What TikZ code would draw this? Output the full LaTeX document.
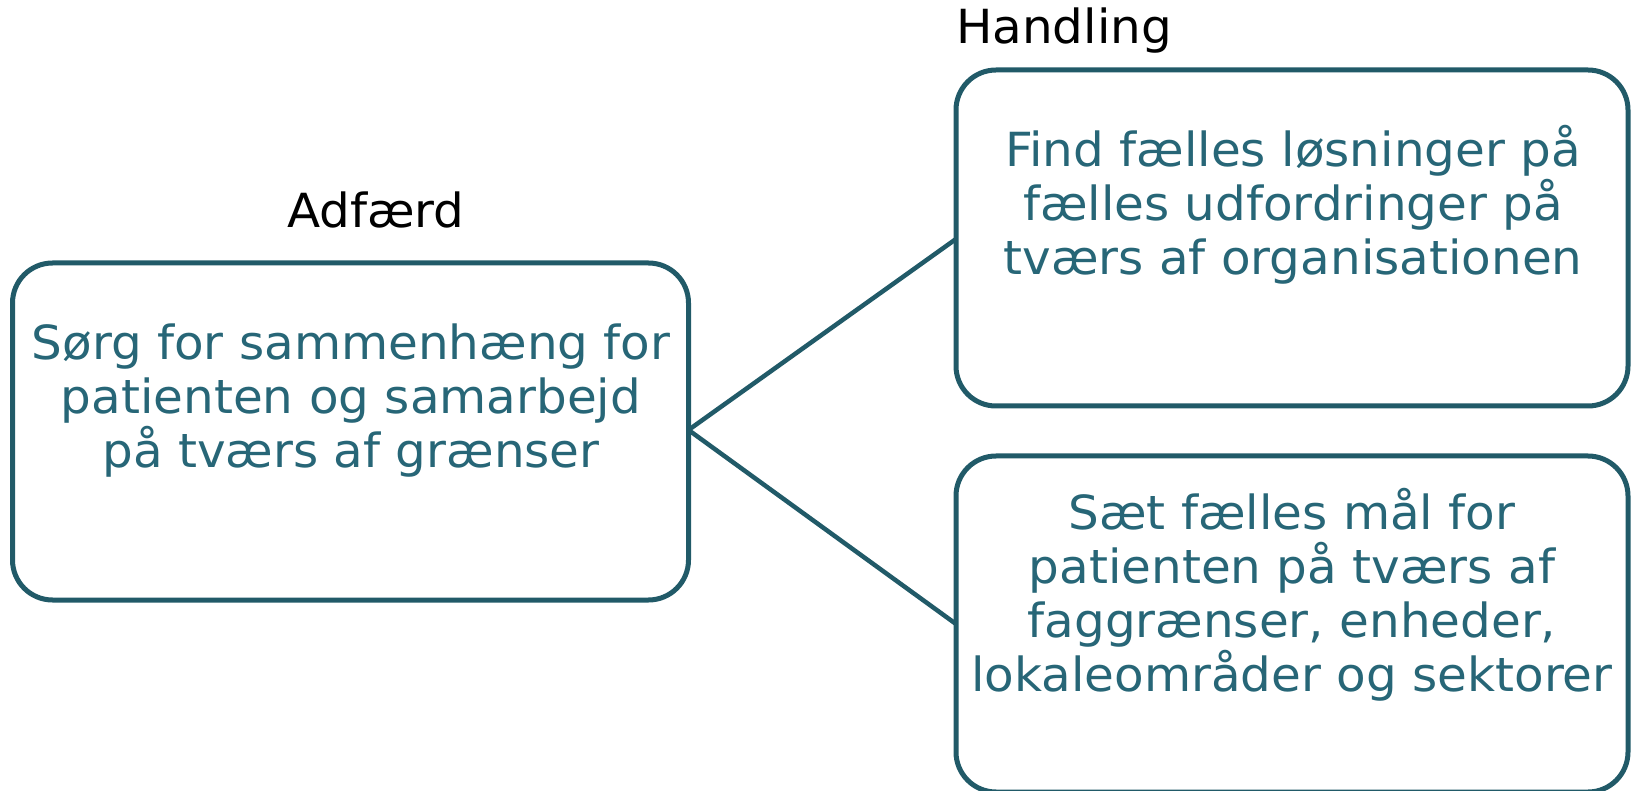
\documentclass[tikz,border=0pt]{standalone}
\usepackage{fontspec}
\setmainfont{DejaVu Sans}[FakeStretch=1.03]
\definecolor{edge}{HTML}{215A68}
\definecolor{ink}{HTML}{276677}
\tikzset{
  card/.style={draw=edge, line width=5pt, rounded corners=40pt, fill=white},
  cardtext/.style={text=ink, align=center, font=\fontsize{47}{54}\selectfont, inner sep=0pt},
  heading/.style={text=black, font=\fontsize{47}{54}\selectfont, inner sep=0pt},
  link/.style={draw=edge, line width=4.5pt}
}
\begin{document}
\begin{tikzpicture}[x=1pt,y=-1pt]
  \useasboundingbox (0,0) rectangle (1631,791);
  \begin{scope}
    \clip (0,0) rectangle (1631,791);
    % boxes
    \draw[card] (12.5,263) rectangle (688.5,600);
    \draw[card] (956,70) rectangle (1628,406);
    \draw[card] (956,456) rectangle (1628,792);
  \end{scope}
  \node[coordinate] (hub) at (688.5,430) {};
  \node[coordinate] (topin) at (956,239) {};
  \node[coordinate] (botin) at (956,624) {};
  \draw[link] (hub) -- (topin);
  \draw[link] (hub) -- (botin);
  % headings
  \node[heading] (adf) at (376,210) {Adfærd};
  \node[heading, anchor=west] (hand) at (956,31) {Handling};
  % texts
  \node[cardtext] (ltxt) at (351,401) {Sørg for sammenhæng for\\patienten og samarbejd\\på tværs af grænser};
  \node[cardtext] (ttxt) at (1293,205) {Find fælles løsninger på\\fælles udfordringer på\\tværs af organisationen};
  \node[cardtext] (btxt) at (1292,595) {Sæt fælles mål for\\patienten på tværs af\\faggrænser, enheder,\\lokaleområder og sektorer};
\end{tikzpicture}
\end{document}
